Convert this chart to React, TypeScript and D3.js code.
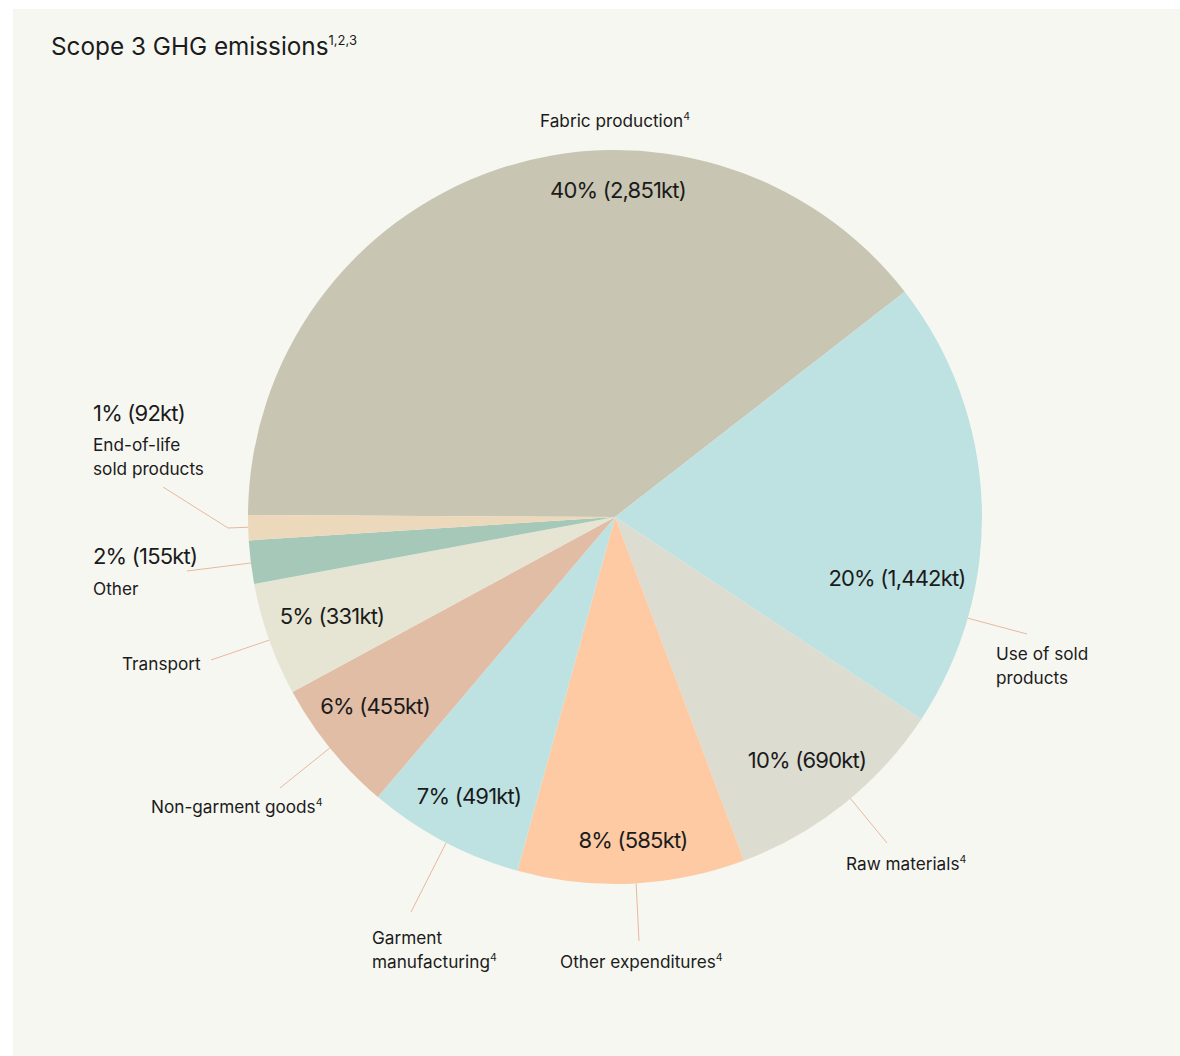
import React from "react";
import * as d3 from "d3";

// ---- data ----
const categories = [
  "Fabric production",
  "Use of sold products",
  "Raw materials",
  "Other expenditures",
  "Garment manufacturing",
  "Non-garment goods",
  "Transport",
  "Other",
  "End-of-life sold products",
];
const emissionsKt = [2851, 1442, 690, 585, 491, 455, 331, 155, 92];
const percentLabels = ["40%", "20%", "10%", "8%", "7%", "6%", "5%", "2%", "1%"];
// share of the circle each slice occupies as drawn in the reference (%)
const arcShare = [39.4, 19.8, 10.0, 10.0, 6.9, 5.9, 5.0, 1.9, 1.1];
const footnote4 = [true, false, true, true, true, true, false, false, false];
const colors = [
  "#c8c6b2",
  "#bee2e2",
  "#dddcd1",
  "#fdcaa4",
  "#bee2e2",
  "#e2bda6",
  "#e6e5d3",
  "#a5c8b9",
  "#ecd9bc",
];

// ---- layout (annotation placement) ----
const W = 1180;
const H = 1056;
const cx = 615;
const cy = 517;
const R = 367;
const startDeg = -89.7;

type Lay = {
  pct: [number, number, string];
  lines: string[];
  name: [number, number, string];
  leaderDeg: number;
  leaderEnd: [number, number];
  elbow?: [number, number];
};
const layout: Lay[] = [
  { pct: [618, 198, "middle"], lines: ["Fabric production"], name: [615, 127, "middle"], leaderDeg: NaN, leaderEnd: [0, 0] },
  { pct: [897, 586, "middle"], lines: ["Use of sold", "products"], name: [996, 660, "start"], leaderDeg: 106, leaderEnd: [1027, 634] },
  { pct: [807, 768, "middle"], lines: ["Raw materials"], name: [846, 870, "start"], leaderDeg: 140.1, leaderEnd: [887, 843] },
  { pct: [633, 848, "middle"], lines: ["Other expenditures"], name: [560, 968, "start"], leaderDeg: 176.7, leaderEnd: [639, 941] },
  { pct: [469, 804, "middle"], lines: ["Garment", "manufacturing"], name: [372, 944, "start"], leaderDeg: 207.4, leaderEnd: [411, 912] },
  { pct: [375, 714, "middle"], lines: ["Non-garment goods"], name: [151, 813, "start"], leaderDeg: 231, leaderEnd: [280, 788] },
  { pct: [332, 624, "middle"], lines: ["Transport"], name: [122, 670, "start"], leaderDeg: 250.4, leaderEnd: [211, 660] },
  { pct: [93, 564, "start"], lines: ["Other"], name: [93, 595, "start"], leaderDeg: 262.8, leaderEnd: [187, 571] },
  { pct: [93, 421, "start"], lines: ["End-of-life", "sold products"], name: [93, 451, "start"], leaderDeg: 268.4, leaderEnd: [163, 487], elbow: [228, 528] },
];

const FONT = "Inter, 'Noto Sans', sans-serif";
const TEXT = "#1b1b1b";
const LEADER = "#e9b79f";

export default function App() {
  const rad = (d: number) => (d * Math.PI) / 180;
  const pie = d3
    .pie<number>()
    .sort(null)
    .value((d) => d)
    .startAngle(rad(startDeg))
    .endAngle(rad(startDeg + 360));
  const arcs = pie(arcShare);
  const arcGen = d3.arc<d3.PieArcDatum<number>>().innerRadius(0).outerRadius(R);
  const fmt = d3.format(",");

  return (
    <div style={{ position: "absolute", left: 0, top: 0, width: W, height: H }}>
      <svg width={W} height={H} style={{ display: "block" }}>
        <rect x={0} y={0} width={W} height={H} fill="#ffffff" />
        <rect x={13} y={9} width={W - 13} height={H - 9} fill="#f7f7f2" />
        <text x={51} y={55} fontFamily={FONT} fontSize={24.3} fill={TEXT}>
          Scope 3 GHG emissions
          <tspan fontSize={13} dy={-10}>1,2,3</tspan>
        </text>
        <g transform={`translate(${cx},${cy})`}>
          {arcs.map((a, i) => (
            <path key={i} d={arcGen(a) || ""} fill={colors[i]} stroke="none" />
          ))}
        </g>
        {layout.map((l, i) => {
          if (isNaN(l.leaderDeg)) return null;
          const a = rad(l.leaderDeg);
          const sx = cx + R * Math.sin(a);
          const sy = cy - R * Math.cos(a);
          const pts = l.elbow
            ? `${sx},${sy} ${l.elbow[0]},${l.elbow[1]} ${l.leaderEnd[0]},${l.leaderEnd[1]}`
            : `${sx},${sy} ${l.leaderEnd[0]},${l.leaderEnd[1]}`;
          return <polyline key={"l" + i} points={pts} fill="none" stroke={LEADER} strokeWidth={1} />;
        })}
        {layout.map((l, i) => (
          <text
            key={"p" + i}
            x={l.pct[0]}
            y={l.pct[1]}
            textAnchor={l.pct[2] as any}
            fontFamily={FONT}
            fontSize={22}
            letterSpacing={-0.8}
            fill={TEXT}
          >
            {`${percentLabels[i]} (${fmt(emissionsKt[i])}kt)`}
          </text>
        ))}
        {layout.map((l, i) => (
          <text
            key={"n" + i}
            x={l.name[0]}
            y={l.name[1]}
            textAnchor={l.name[2] as any}
            fontFamily={FONT}
            fontSize={17.2}
            fill={TEXT}
          >
            {l.lines.map((s, j) => (
              <tspan key={j} x={l.name[0]} dy={j === 0 ? 0 : 24}>
                {s}
                {footnote4[i] && j === l.lines.length - 1 ? (
                  <tspan fontSize={10.5} dy={-7}>4</tspan>
                ) : null}
              </tspan>
            ))}
          </text>
        ))}
      </svg>
    </div>
  );
}
